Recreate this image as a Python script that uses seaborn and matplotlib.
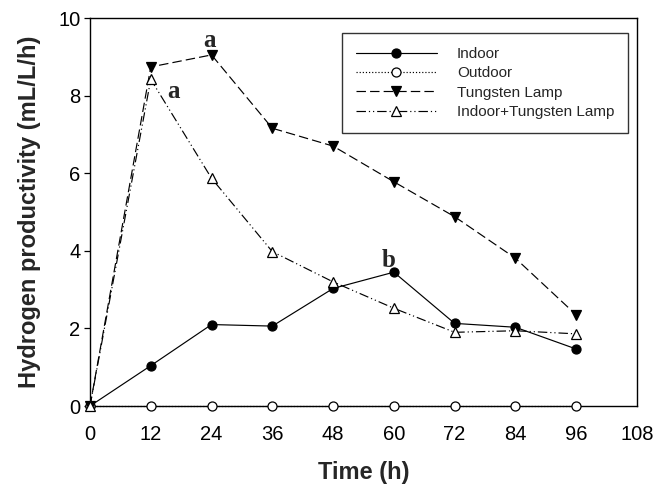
import pandas as pd
import matplotlib
matplotlib.use('Agg')
import matplotlib.pyplot as plt
import seaborn as sns

# Values
time_h = [0, 12, 24, 36, 48, 60, 72, 84, 96]
indoor = [0, 1.04, 2.1, 2.06, 3.03, 3.45, 2.13, 2.03, 1.47]
outdoor = [0, 0, 0, 0, 0, 0, 0, 0, 0]
tungsten = [0, 8.74, 9.05, 7.16, 6.7, 5.78, 4.88, 3.81, 2.35]
indoor_tungsten = [0, 8.42, 5.87, 3.98, 3.2, 2.52, 1.9, 1.94, 1.86]

series_names = ['Indoor', 'Outdoor', 'Tungsten Lamp', 'Indoor+Tungsten Lamp']
series_values = [indoor, outdoor, tungsten, indoor_tungsten]

# significance letters (baseline positions)
letters_x = [23.5, 16.4, 59]
letters_y = [9.25, 7.94, 3.58]
letters_txt = ['a', 'a', 'b']

df = pd.DataFrame({'Time': time_h * 4,
                   'Value': sum(series_values, []),
                   'Series': [n for n in series_names for _ in time_h]})

sns.set_style("ticks")
plt.rcParams['font.family'] = ['Liberation Sans', 'DejaVu Sans']

fig = plt.figure(figsize=(6.55, 4.88), dpi=100)
ax = fig.add_axes([0.1374, 0.168, 0.835, 0.795])

styles = {
    'Indoor': dict(linestyle='-', marker='o', markerfacecolor='black', ms=6.5),
    'Outdoor': dict(linestyle=':', marker='o', markerfacecolor='white', ms=6.5),
    'Tungsten Lamp': dict(linestyle=(0, (8, 3.5)), marker='v', markerfacecolor='black', ms=7),
    'Indoor+Tungsten Lamp': dict(linestyle=(0, (8, 2.5, 1, 2.5, 1, 2.5)), marker='^',
                                 markerfacecolor='white', ms=7),
}

for name in series_names:
    sub = df[df['Series'] == name]
    st = styles[name]
    sns.lineplot(data=sub, x='Time', y='Value', ax=ax, color='black', linewidth=0.85,
                 linestyle=st['linestyle'], marker=st['marker'], markersize=st['ms'],
                 markerfacecolor=st['markerfacecolor'], markeredgecolor='black',
                 markeredgewidth=0.9, label=name, clip_on=False, zorder=3)

for x, y, t in zip(letters_x, letters_y, letters_txt):
    ax.text(x, y, t, ha='center', va='baseline', fontsize=18, fontweight='bold',
            family=['Liberation Serif', 'DejaVu Serif'])

ax.set_xlim(0, 108)
ax.set_ylim(0, 10)
ax.set_xticks(range(0, 109, 12))
ax.set_yticks(range(0, 11, 2))
ax.tick_params(axis='both', labelsize=14.5, direction='out', width=0.9, colors='black')
ax.tick_params(axis='y', length=4, pad=3)
ax.tick_params(axis='x', length=0, pad=14)
for s in ax.spines.values():
    s.set_linewidth(1.0)
    s.set_color('black')

ax.set_xlabel('Time (h)', fontsize=17, fontweight='bold', labelpad=12)
ax.set_ylabel('Hydrogen productivity (mL/L/h)', fontsize=17, fontweight='bold', labelpad=12)

leg = ax.legend(loc='upper right', bbox_to_anchor=(0.9835, 0.961), fontsize=11, frameon=True,
                fancybox=False, edgecolor='black', handlelength=5.3, borderpad=0.9,
                labelspacing=0.35, handletextpad=1.3, borderaxespad=0)
leg.get_frame().set_linewidth(1.0)

fig.savefig('out.png', dpi=100)
